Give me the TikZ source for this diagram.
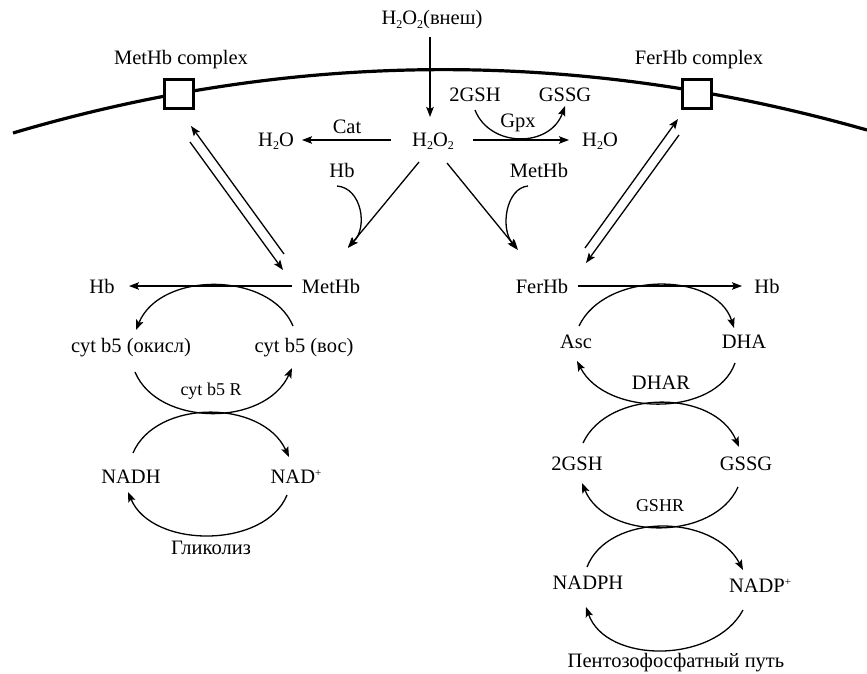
\documentclass[tikz,border=0pt]{standalone}
\usepackage{fontspec}
\setmainfont{Liberation Serif}
\usetikzlibrary{arrows.meta,calc}
\newcommand\mysub[1]{\raisebox{-0.35ex}{\fontsize{12}{12}\selectfont #1}}
\newcommand\mysup[1]{\raisebox{0.8ex}{\fontsize{11}{11}\selectfont #1}}
\begin{document}
\begin{tikzpicture}[x=1pt,y=-1pt,
  txt/.style={inner sep=0pt, font=\fontsize{20.5}{24}\selectfont},
  sm/.style={inner sep=0pt, font=\fontsize{18}{21}\selectfont},
  arr/.style={line width=1.3pt, -{Stealth[length=10pt,width=7.5pt,inset=2pt]}},
  mbox/.style={draw, line width=3pt, fill=white, minimum size=29pt, inner sep=0pt}]
\useasboundingbox (0,0) rectangle (867,674);
% membrane
\draw[line width=3.2pt] (13,133) .. controls (297,49) and (582,49) .. (867,130);
\node[mbox] (boxL) at (178.5,94.5) {};
\node[mbox] (boxR) at (696.5,94.5) {};
% top labels
\node[txt] (cplxL) at (181,60) {MetHb complex};
\node[txt] (cplxR) at (699,60) {FerHb complex};
\node[txt] (ext) at (432,20) {H\mysub{2}O\mysub{2}(внеш)};
\node[txt] (h2o2) at (433,141) {H\mysub{2}O\mysub{2}};
\node[txt] (h2oL) at (276,141) {H\mysub{2}O};
\node[txt] (h2oR) at (600,141) {H\mysub{2}O};
\node[txt] (cat) at (347,127) {Cat};
\node[txt] (gshT) at (475,95) {2GSH};
\node[txt] (gssgT) at (565,95) {GSSG};
\node[txt] (gpx) at (518,123) {Gpx};
\node[txt] (hbT) at (342,170) {Hb};
\node[txt] (methbT) at (539,170) {MetHb};
% left column
\node[txt] (methb) at (331,286) {MetHb};
\node[txt] (hbL) at (102,286) {Hb};
\node[txt] (cytok) at (131,348) {cyt b5 (окисл)};
\node[txt] (cytvos) at (304,348) {cyt b5 (вос)};
\node[sm] (cytr) at (211,391) {cyt b5 R};
\node[txt] (nadh) at (131,477) {NADH};
\node[txt] (nadp) at (296,477) {NAD\mysup{+}};
\node[txt] (glyc) at (211,548) {Гликолиз};
% right column
\node[txt] (ferhb) at (542,286) {FerHb};
\node[txt] (hbR) at (767,286) {Hb};
\node[txt] (asc) at (576,342) {Asc};
\node[txt] (dha) at (744,342) {DHA};
\node[txt] (dhar) at (661,383) {DHAR};
\node[txt] (gsh) at (577,464) {2GSH};
\node[txt] (gssg) at (746,464) {GSSG};
\node[sm] (gshr) at (660,506) {GSHR};
\node[txt] (nadph) at (588,583) {NADPH};
\node[txt] (nadpp) at (760,586) {NADP\mysup{+}};
\node[txt] (ppp) at (676,663) {Пентозофосфатный путь};
% top arrows
\draw[arr] ($(ext)+(-2,17)$) -- ($(h2o2)+(-3,-24)$);
\draw[arr] ($(h2o2)+(-42,-1)$) -- ($(h2oL)+(26,-1)$);
\draw[arr] ($(h2o2)+(40,-1)$) -- ($(h2oR)+(-31,-1)$);
\draw[arr] ($(gshT)+(0,15)$) .. controls (490,148) and (550,148) .. ($(gssgT)+(0,11)$);
\draw[arr] ($(h2o2)+(-14,21)$) -- ($(methb)+(17,-38)$);
\draw[arr] ($(hbT)+(-5,16)$) .. controls (362,188) and (368,228) .. ($(methb)+(17,-39)$);
\draw[arr] ($(h2o2)+(14,22)$) -- ($(ferhb)+(-24,-36)$);
\draw[arr] ($(methbT)+(-11,16)$) .. controls (506,188) and (500,228) .. ($(ferhb)+(-25,-37)$);
% exchange with complexes
\draw[arr] ($(methb)+(-47,-32)$) -- ($(boxL)+(12.5,31.5)$);
\draw[arr] ($(boxL)+(11.5,47.5)$) -- ($(methb)+(-48,-16)$);
\draw[arr] ($(ferhb)+(43,-38)$) -- ($(boxR)+(-18.5,24.5)$);
\draw[arr] ($(boxR)+(-17.5,40.5)$) -- ($(ferhb)+(44,-23)$);
% left cycle
\draw[arr] ($(methb)+(-39,0)$) -- ($(hbL)+(27,0)$);
\draw[arr] ($(cytvos)+(-11,-22)$) .. controls (270,271) and (160,271) .. ($(cytok)+(5,-18)$);
\draw[arr] ($(cytok)+(4,24)$) .. controls (158,427) and (265,427) .. ($(cytvos)+(-12,20)$);
\draw[arr] ($(nadh)+(2,-24)$) .. controls (156,399) and (262,399) .. ($(nadp)+(-7,-20)$);
\draw[arr] ($(nadp)+(-9,18)$) .. controls (265,549) and (152,549) .. ($(nadh)+(-3,15)$);
% right cycle
\draw[arr] ($(ferhb)+(36,0)$) -- ($(hbR)+(-25,0)$);
\draw[arr] ($(asc)+(3,-16)$) .. controls (605,271) and (716,271) .. ($(dha)+(-10,-14)$);
\draw[arr] ($(dha)+(-9,21)$) .. controls (716,417) and (606,417) .. ($(asc)+(1,19)$);
\draw[arr] ($(gsh)+(6,-21)$) .. controls (608,389) and (714,389) .. ($(gssg)+(-7,-17)$);
\draw[arr] ($(gssg)+(-8,23)$) .. controls (714,541) and (606,541) .. ($(gsh)+(5,19)$);
\draw[arr] ($(nadph)+(-1,-16)$) .. controls (608,513) and (713,513) .. ($(nadpp)+(-17,-16)$);
\draw[arr] ($(nadpp)+(-17,24)$) .. controls (714,664) and (606,664) .. ($(nadph)+(-2,24)$);
\end{tikzpicture}
\end{document}
